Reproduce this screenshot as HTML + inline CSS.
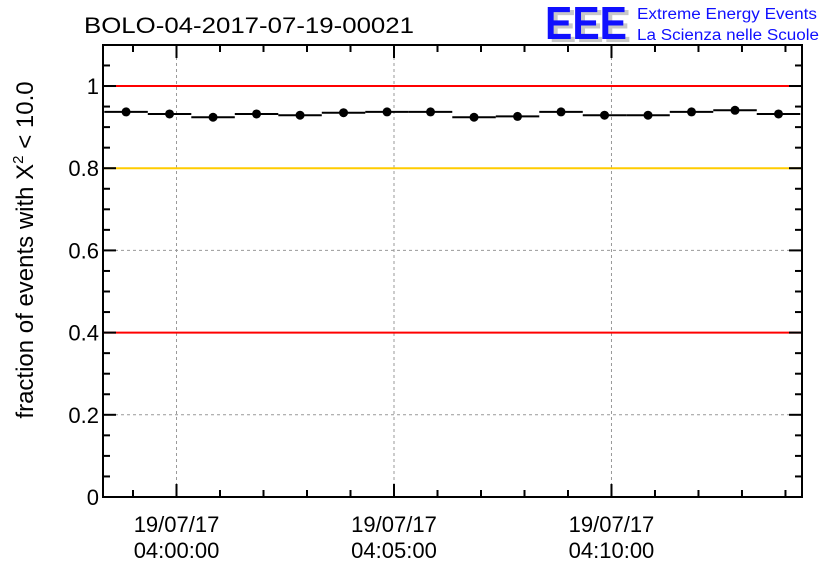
<!DOCTYPE html>
<html><head><meta charset="utf-8"><style>
body{margin:0;background:#fff;}
svg{display:block;font-family:"Liberation Sans",sans-serif;}
</style></head><body>
<svg id="chart" width="836" height="572" viewBox="0 0 836 572">
<text x="84" y="33" font-size="22" textLength="330" lengthAdjust="spacingAndGlyphs">BOLO-04-2017-07-19-00021</text>
<g>
<text x="549" y="42" font-size="46" font-weight="bold" fill="#c8c8c8" textLength="82" lengthAdjust="spacingAndGlyphs">EEE</text>
<text x="545" y="39" font-size="46" font-weight="bold" fill="#1010ff" textLength="82" lengthAdjust="spacingAndGlyphs">EEE</text>
<text x="637" y="19" font-size="15.5" fill="#1010ff" textLength="180" lengthAdjust="spacingAndGlyphs">Extreme Energy Events</text>
<text x="637" y="40" font-size="15.5" fill="#1010ff" textLength="182" lengthAdjust="spacingAndGlyphs">La Scienza nelle Scuole</text>
</g>
<g id="grid"></g>
<g id="refs"></g>
<g id="axes"></g>
<g id="marks"></g>
<text transform="translate(33,250) rotate(-90)" text-anchor="middle" font-size="24">fraction of events with Χ<tspan dy="-10" font-size="15">2</tspan><tspan dy="10"> &lt; 10.0</tspan></text>
</svg>
<script>
const minutes = [-1.16,-0.16,0.84,1.84,2.84,3.84,4.84,5.84,6.84,7.84,8.84,9.84,10.84,11.84,12.84,13.84];
const fractions = [0.937,0.932,0.924,0.932,0.929,0.935,0.937,0.937,0.924,0.926,0.937,0.929,0.929,0.937,0.941,0.932];
const yTicks = [0,0.2,0.4,0.6,0.8,1];
const yTickLabels = ["0","0.2","0.4","0.6","0.8","1"];
const xMajor = [0,5,10];
const xTickLabels = [["19/07/17","04:00:00"],["19/07/17","04:05:00"],["19/07/17","04:10:00"]];
const refLines = [1,0.8,0.4];
const refColors = ["#ff0000","#ffcc00","#ff0000"];

const L=103,R=802,T=45,B=497;
const xMin=-1.69,xMax=14.38,yMin=0,yMax=1.0998;
const X=m=>L+(m-xMin)/(xMax-xMin)*(R-L);
const Y=v=>B-(v-yMin)/(yMax-yMin)*(B-T);
const NS="http://www.w3.org/2000/svg";
function mk(tag,attrs,parent){const e=document.createElementNS(NS,tag);for(const k in attrs)e.setAttribute(k,attrs[k]);document.getElementById(parent).appendChild(e);return e;}

xMajor.forEach(m=>{const e=mk('line',{x1:X(m),x2:X(m),y1:T,y2:B,stroke:'#999','stroke-dasharray':'3,3','stroke-width':1},'grid');

});
yTicks.forEach(v=>{if(v===0||v>=1)return;const e=mk('line',{x1:L,x2:R,y1:Y(v),y2:Y(v),stroke:'#999','stroke-dasharray':'3,3','stroke-width':1},'grid');

});
refLines.forEach((v,i)=>{const e=mk('line',{x1:L,x2:R,y1:Y(v),y2:Y(v),stroke:refColors[i],'stroke-width':2},'refs');

});
const fr=mk('rect',{x:L,y:T,width:R-L,height:B-T,fill:'none',stroke:'#000','stroke-width':2},'axes');


for(let v=0;v<=yMax+1e-9;v+=0.05){const major=Math.abs(v*5-Math.round(v*5))<1e-6;const len=major?13:7;
mk('line',{x1:L,x2:L+len,y1:Y(v),y2:Y(v),stroke:'#000','stroke-width':2},'axes');
mk('line',{x1:R,x2:R-len,y1:Y(v),y2:Y(v),stroke:'#000','stroke-width':2},'axes');}
yTicks.forEach((v,i)=>{const t=mk('text',{x:L-4,y:Y(v)+8,'text-anchor':'end','font-size':22},'axes');t.textContent=yTickLabels[i];

});
for(let m=-1;m<=14;m++){const major=m%5===0;const len=major?13:7;
mk('line',{x1:X(m),x2:X(m),y1:B,y2:B-len,stroke:'#000','stroke-width':2},'axes');
mk('line',{x1:X(m),x2:X(m),y1:T,y2:T+len,stroke:'#000','stroke-width':2},'axes');}
xMajor.forEach((m,i)=>{xTickLabels[i].forEach((s,j)=>{const t=mk('text',{x:X(m),y:532+j*26,'text-anchor':'middle','font-size':22},'axes');t.textContent=s;

});});
minutes.forEach((m,i)=>{const y=Y(fractions[i]);
const b=mk('line',{x1:X(m-0.5),x2:X(m+0.5),y1:y,y2:y,stroke:'#000','stroke-width':2},'marks');


const c=mk('circle',{cx:X(m),cy:y,r:4.5,fill:'#000'},'marks');

});
</script>
</body></html>
